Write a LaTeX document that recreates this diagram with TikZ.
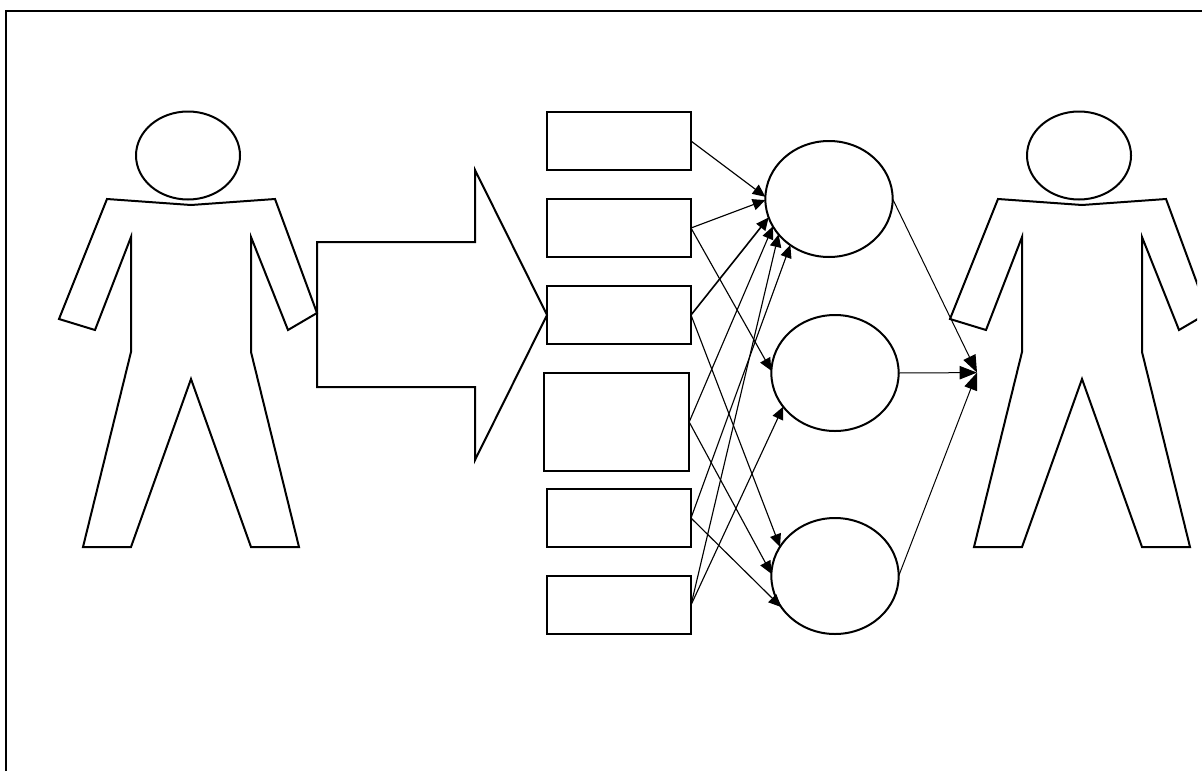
\documentclass[tikz,border=0pt]{standalone}
\usetikzlibrary{arrows.meta,shapes.geometric}
\tikzset{
  outline/.style={draw=black,line width=1.5pt,line join=miter},
  boxnode/.style={outline,rectangle,inner sep=0pt,outer sep=0pt,minimum width=108pt,minimum height=43.5pt},
  oval/.style={outline,ellipse,inner sep=0pt,outer sep=0pt,minimum width=95.5pt,minimum height=87pt},
  headnode/.style={outline,ellipse,inner sep=0pt,outer sep=0pt,minimum width=78pt,minimum height=66pt},
  link/.style={draw=black,line width=0.85pt,-{Triangle[length=9.5pt,width=8.5pt]}},
  biglink/.style={draw=black,line width=0.75pt,-{Triangle[length=13pt,width=10pt]}},
  personshape/.pic={
    \draw[outline] (107,199)--(191,205)--(275,199)--(317,313)--(288,330)--(251,237)--(251,352)--(299,547)--(251,547)--(191,379)--(131,547)--(83,547)--(131,352)--(131,237)--(95,330)--(59,319)--cycle;
  }
}
\begin{document}
\begin{tikzpicture}[x=0.75pt,y=-0.75pt]
\useasboundingbox (0,0) rectangle (1202,771);
\fill[white] (0,0) rectangle (1202,771);
% frame
\draw[outline] (6,771)--(6,11)--(1202,11);
% left person
\pic at (0,0) {personshape};
\node[headnode] (head1) at (188,155.5) {};
% right person, cut off at the right
\begin{scope}
\clip (891,0) rectangle (1197,771);
\pic at (891,0) {personshape};
\end{scope}
\node[headnode] (head2) at (1079,155.5) {};
% block arrow
\draw[outline] (317,242)--(475,242)--(475,170)--(547,315)--(475,460)--(475,387)--(317,387)--cycle;
% boxes
\node[boxnode] (r1) at (619,141) {};
\node[boxnode] (r2) at (619,228) {};
\node[boxnode] (r3) at (619,315) {};
\node[boxnode,minimum width=109pt,minimum height=73.5pt] (r4) at (616.5,422) {};
\node[boxnode] (r5) at (619,518) {};
\node[boxnode] (r6) at (619,605) {};
% circles
\node[oval] (c1) at (829,199) {};
\node[oval] (c2) at (835,373) {};
\node[oval] (c3) at (835,576) {};
\coordinate (target) at (977,372.6);
% connectors
\draw[link] (r1.east) -- (c1.178);
\draw[link] (r2.east) -- (c1.181);
\draw[link] (r2.east) -- (c2.178);
\draw[link,line width=1.2pt] (r3.east) -- (c1.197);
\draw[link] (r3.east) -- (c3.152);
\draw[link] (r4.east) -- (c1.206);
\draw[link] (r4.east) -- (c3.178);
\draw[link] (r5.east) -- (c1.230);
\draw[link] (r5.east) -- (c3.210);
\draw[link] (r6.east) -- (c1.215);
\draw[link] (r6.east) -- (c2.213);
\draw[biglink] (c1.east) -- (target);
\draw[biglink] (c2.east) -- (target);
\draw[biglink] (c3.east) -- (target);
\end{tikzpicture}
\end{document}
